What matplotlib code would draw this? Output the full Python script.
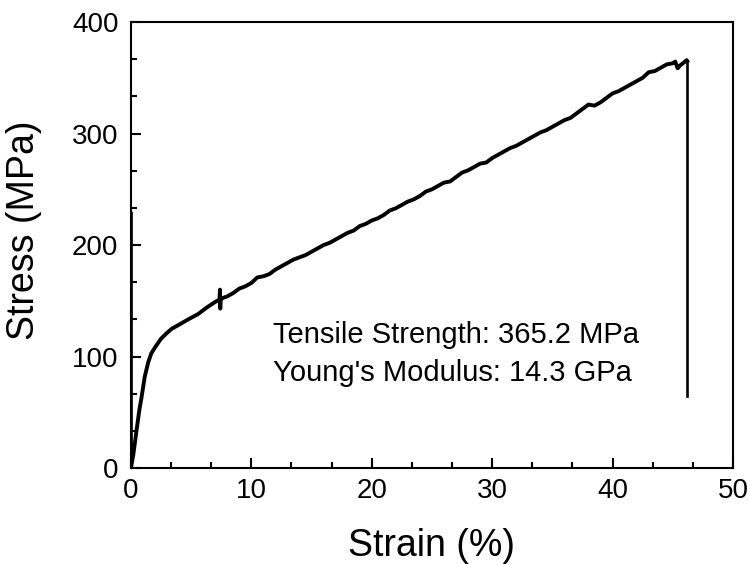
import numpy as np
from matplotlib import pyplot as plt
from matplotlib.ticker import MultipleLocator

plt.rcParams['font.family'] = ['Liberation Sans', 'DejaVu Sans']

# stress-strain curve
strain = [0, 0, 0.2, 0.47, 0.7, 0.89, 1.15, 1.44, 1.7, 1.99, 2.5, 2.97, 3.4, 3.9, 4.7, 5.56,
          6.3, 7.0, 7.35, 7.4, 7.42, 7.45, 7.5, 8.0, 8.5, 9.0, 9.5, 10.0, 10.5, 11.0, 11.5,
          12.0, 12.5, 13.0, 13.5, 14.0, 14.5, 15.0, 15.5, 16.0, 16.5, 17.0, 17.5, 18.0,
          18.5, 19.0, 19.5, 20.0, 20.5, 21.0, 21.5, 22.0, 22.5, 23.0, 23.5, 24.0, 24.5,
          25.0, 25.5, 26.0, 26.5, 27.0, 27.5, 28.0, 28.5, 29.0, 29.5, 30.0, 30.5, 31.0,
          31.5, 32.0, 32.5, 33.0, 33.5, 34.0, 34.5, 35.0, 35.5, 36.0, 36.5, 37.0, 37.5,
          38.0, 38.5, 39.0, 39.5, 40.0, 40.5, 41.0, 41.5, 42.0, 42.5, 43.0, 43.5, 44.0,
          44.5, 45.0, 45.2, 45.4, 45.6, 45.9, 46.15, 46.2, 46.2, 46.15, 46.15]
stress = [228, 0, 12, 34, 52, 64, 82, 95, 103, 108, 116, 121, 125, 128, 133, 138,
          144, 149, 151, 160, 143, 152, 152, 154, 157, 161, 163, 166, 171, 172, 174,
          178, 181, 184, 187, 189, 191, 194, 197, 200, 202, 205, 208, 211,
          213, 217, 219, 222, 224, 227, 231, 233, 236, 239, 241, 244, 248,
          250, 253, 256, 257, 261, 265, 267, 270, 273, 274, 278, 281, 284,
          287, 289, 292, 295, 298, 301, 303, 306, 309, 312, 314, 318, 322,
          326, 325, 328, 332, 336, 338, 341, 344, 347, 350, 355, 356, 359,
          362, 363, 364.5, 358.5, 361, 363.5, 365.8, 365, 80, 80, 65]

note_lines = ['Tensile Strength: 365.2 MPa', "Young's Modulus: 14.3 GPa"]

fig = plt.figure(figsize=(7.48, 5.64), dpi=100)
ax = fig.add_axes([0.175, 0.170, 0.805, 0.791])
# loading part thick, fracture drop thinner
ax.plot(strain[:-3], stress[:-3], color='black', linewidth=2.8, solid_joinstyle='round')
ax.plot(strain[-4:], stress[-4:], color='black', linewidth=1.9)

ax.set_xlim(0, 50)
ax.set_ylim(0, 400)
ax.xaxis.set_major_locator(MultipleLocator(10))
ax.xaxis.set_minor_locator(MultipleLocator(10/3))
ax.yaxis.set_major_locator(MultipleLocator(100))
ax.yaxis.set_minor_locator(MultipleLocator(100/3))
ax.tick_params(which='both', direction='in', top=False, right=False, width=1.5, labelsize=20)
ax.tick_params(axis='x', which='major', length=7, pad=7)
ax.tick_params(axis='y', which='major', length=7, pad=9)
ax.tick_params(which='minor', length=4)
for s in ax.spines.values():
    s.set_linewidth(1.5)

ax.set_xlabel('Strain (%)', fontsize=27)
ax.set_ylabel('Stress (MPa)', fontsize=27)
ax.xaxis.set_label_coords(0.5, -0.134)
ax.yaxis.set_label_coords(-0.148, 0.534)

ax.text(11.8, 112, note_lines[0], fontsize=21)
ax.text(11.8, 78, note_lines[1], fontsize=21)

fig.savefig('out.png', dpi=100)
